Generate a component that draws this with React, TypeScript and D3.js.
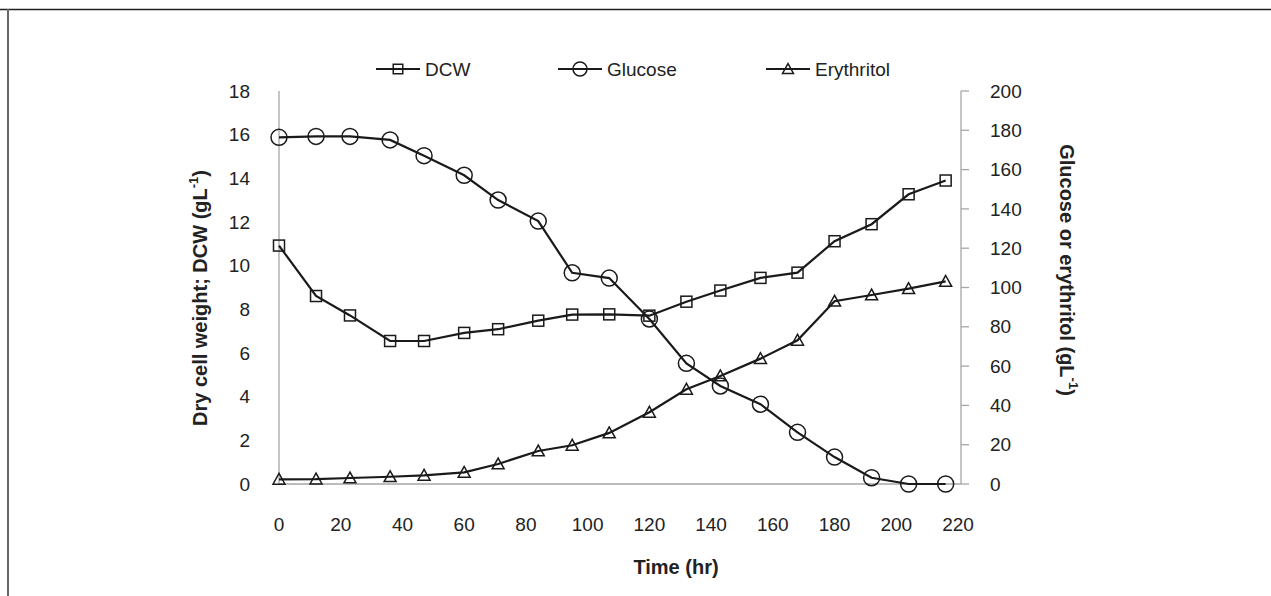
import React from "react";
import * as d3 from "d3";

const times = [0, 12, 23, 36, 47, 60, 71, 84, 95, 107, 120, 132, 143, 156, 168, 180, 192, 204, 216];
const dcw = [10.92, 8.61, 7.72, 6.55, 6.55, 6.92, 7.09, 7.48, 7.76, 7.77, 7.71, 8.35, 8.86, 9.44, 9.68, 11.12, 11.9, 13.27, 13.9];
const glucose = [176.4, 176.9, 176.9, 175.1, 167.1, 157.1, 144.5, 133.8, 107.5, 104.8, 84.0, 61.4, 49.9, 40.6, 26.3, 13.7, 3.2, 0, 0];
const erythritol = [2.4, 2.5, 3.05, 3.7, 4.4, 5.9, 10.2, 16.8, 19.7, 26, 36.5, 48.2, 55, 63.8, 73.1, 93, 96.2, 99.4, 103.1];
const xTicks = [0, 20, 40, 60, 80, 100, 120, 140, 160, 180, 200, 220];
const leftTicks = [0, 2, 4, 6, 8, 10, 12, 14, 16, 18];
const rightTicks = [0, 20, 40, 60, 80, 100, 120, 140, 160, 180, 200];
const seriesNames = ["DCW", "Glucose", "Erythritol"];

const W = 1271;
const H = 596;
const plot = { left: 279, right: 961, top: 91, bottom: 484 };
const FONT = "'Liberation Sans', Arial, sans-serif";
const LINE = "#1a1a1a";
const AXIS = "#a6a6a6";

export default function App() {
  const x = d3.scaleLinear().domain([0, 220]).range([plot.left, 958]);
  const yL = d3.scaleLinear().domain([0, 18]).range([plot.bottom, plot.top]);
  const yR = d3.scaleLinear().domain([0, 200]).range([plot.bottom, plot.top]);

  const lineL = d3.line<number>().x((_, i) => x(times[i])).y((d) => yL(d));
  const lineR = d3.line<number>().x((_, i) => x(times[i])).y((d) => yR(d));

  const square = (cx: number, cy: number, s: number, key: any) => (
    <rect key={key} x={cx - s / 2} y={cy - s / 2} width={s} height={s} fill="none" stroke={LINE} strokeWidth={1.5} />
  );
  const circle = (cx: number, cy: number, r: number, key: any) => (
    <circle key={key} cx={cx} cy={cy} r={r} fill="none" stroke={LINE} strokeWidth={1.5} />
  );
  const tri = (cx: number, cy: number, s: number, key: any) => {
    const h = s * 0.9;
    const pts = `${cx},${cy - h * 0.55} ${cx - s / 2},${cy + h * 0.45} ${cx + s / 2},${cy + h * 0.45}`;
    return <polygon key={key} points={pts} fill="none" stroke={LINE} strokeWidth={1.5} />;
  };

  const legendItems = [
    { name: seriesNames[0], x0: 376, draw: (cx: number, cy: number) => square(cx, cy, 9.5, "l0") },
    { name: seriesNames[1], x0: 558, draw: (cx: number, cy: number) => circle(cx, cy, 7, "l1") },
    { name: seriesNames[2], x0: 766, draw: (cx: number, cy: number) => tri(cx, cy, 11, "l2") },
  ];
  const legY = 69;

  return (
    <svg width={W} height={H} style={{ position: "absolute", left: 0, top: 0, background: "#fff" }} fontFamily={FONT}>
      <rect x={0} y={0} width={W} height={H} fill="#fff" />
      {/* frame */}
      <line x1={0} x2={W} y1={9.5} y2={9.5} stroke="#222" strokeWidth={1.5} />
      <line x1={8} x2={8} y1={9} y2={H} stroke="#666" strokeWidth={2} />

      {/* axes */}
      <line x1={plot.left} x2={plot.left} y1={plot.top} y2={plot.bottom} stroke={AXIS} strokeWidth={1.3} />
      <line x1={plot.left} x2={plot.right} y1={plot.bottom} y2={plot.bottom} stroke={AXIS} strokeWidth={1.3} />
      <line x1={plot.right} x2={plot.right} y1={plot.top} y2={plot.bottom} stroke={AXIS} strokeWidth={1.3} />
      {rightTicks.map((t) => (
        <line key={"rt" + t} x1={plot.right} x2={plot.right + 8} y1={yR(t)} y2={yR(t)} stroke={AXIS} strokeWidth={1.3} />
      ))}

      {/* tick labels */}
      {leftTicks.map((t) => (
        <text key={"lt" + t} x={250} y={yL(t)} dy="0.35em" textAnchor="end" fontSize={19} fill="#222">{t}</text>
      ))}
      {rightTicks.map((t) => (
        <text key={"rl" + t} x={990} y={yR(t)} dy="0.35em" textAnchor="start" fontSize={19} fill="#222">{t}</text>
      ))}
      {xTicks.map((t) => (
        <text key={"xt" + t} x={x(t)} y={531} textAnchor="middle" fontSize={19} fill="#222">{t}</text>
      ))}

      {/* axis titles */}
      <text x={676} y={574} textAnchor="middle" fontSize={20} fontWeight="bold" fill="#222">Time (hr)</text>
      <text transform={`translate(207,298) rotate(-90)`} textAnchor="middle" fontSize={20} fontWeight="bold" fill="#222">
        Dry cell weight; DCW (gL<tspan fontSize={13} dy={-9}>-1</tspan><tspan dy={9}>)</tspan>
      </text>
      <text transform={`translate(1060,270) rotate(90)`} textAnchor="middle" fontSize={20} fontWeight="bold" fill="#222">
        Glucose or erythritol (gL<tspan fontSize={13} dy={-9}>-1</tspan><tspan dy={9}>)</tspan>
      </text>

      {/* lines */}
      <path d={lineL(dcw) || ""} fill="none" stroke={LINE} strokeWidth={2.2} />
      <path d={lineR(glucose) || ""} fill="none" stroke={LINE} strokeWidth={2.2} />
      <path d={lineR(erythritol) || ""} fill="none" stroke={LINE} strokeWidth={2.2} />

      {/* markers */}
      {erythritol.map((v, i) => tri(x(times[i]), yR(v), 12, "e" + i))}
      {dcw.map((v, i) => square(x(times[i]), yL(v), 11, "d" + i))}
      {glucose.map((v, i) => circle(x(times[i]), yR(v), 8, "g" + i))}

      {/* legend */}
      {legendItems.map((it) => (
        <g key={it.name}>
          <line x1={it.x0} x2={it.x0 + 44} y1={legY} y2={legY} stroke={LINE} strokeWidth={2.2} />
          {it.draw(it.x0 + 22, legY)}
          <text x={it.x0 + 49} y={legY} dy="0.35em" fontSize={19} fill="#222">{it.name}</text>
        </g>
      ))}
    </svg>
  );
}
